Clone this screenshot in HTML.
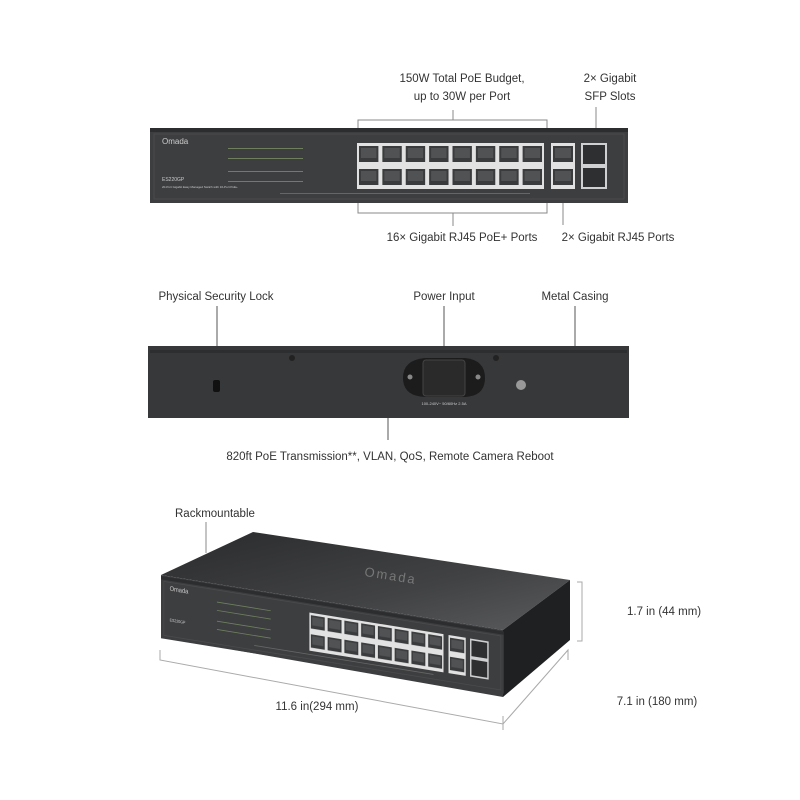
<!DOCTYPE html>
<html><head><meta charset="utf-8"><style>
html,body{margin:0;padding:0;background:#fff;width:800px;height:800px;overflow:hidden}
svg{display:block}
.l{font-family:"Liberation Sans",sans-serif;font-size:11.5px;fill:#333}
.s{font-family:"Liberation Sans",sans-serif;fill:#ccc}
</style></head><body>
<svg width="800" height="800" viewBox="0 0 800 800" xmlns="http://www.w3.org/2000/svg">
<defs>
<pattern id="pt" x="207" y="15" width="23.375" height="23" patternUnits="userSpaceOnUse">
<rect width="23.375" height="23" fill="#e2e2e2"/>
<rect x="2" y="3" width="19.4" height="16" fill="#3a3b3d"/>
<rect x="4" y="5" width="15.4" height="10" fill="#505254"/>
</pattern>
<pattern id="pt2" x="401" y="15" width="24" height="23" patternUnits="userSpaceOnUse">
<rect width="24" height="23" fill="#e2e2e2"/>
<rect x="2" y="3" width="20" height="16" fill="#3a3b3d"/>
<rect x="4" y="5" width="16" height="10" fill="#505254"/>
</pattern>
<linearGradient id="top" x1="0" y1="0" x2="1" y2="1">
<stop offset="0" stop-color="#2a2b2d"/><stop offset="0.6" stop-color="#414244"/><stop offset="1" stop-color="#5a5b5d"/></linearGradient>
<g id="panel">
<rect x="0" y="0" width="478" height="75" fill="#3d3e40"/>
<rect x="0" y="0" width="478" height="4" fill="#2c2d2f"/>
<rect x="4" y="6" width="470" height="65" fill="none" stroke="#4a4b4d"/>
<rect x="207" y="15" width="187" height="46" fill="url(#pt)"/>
<rect x="401" y="15" width="24" height="46" fill="url(#pt2)"/>
<rect x="431" y="15" width="26" height="46" fill="#cfd0d2"/>
<rect x="433" y="17" width="22" height="19" fill="#2e2f31"/>
<rect x="433" y="40" width="22" height="19" fill="#2e2f31"/>
<g fill="#6f7f5e"><rect x="78" y="20" width="75" height="1"/><rect x="78" y="30" width="75" height="1"/><rect x="78" y="43" width="75" height="1"/><rect x="78" y="53" width="75" height="1"/></g>
<rect x="130" y="65" width="250" height="1" fill="#666"/>
</g>
</defs>

<!-- TOP: front panel -->
<text class="l" x="462" y="82" text-anchor="middle">150W Total PoE Budget,</text>
<text class="l" x="462" y="100" text-anchor="middle">up to 30W per Port</text>
<text class="l" x="610" y="82" text-anchor="middle">2× Gigabit</text>
<text class="l" x="610" y="100" text-anchor="middle">SFP Slots</text>
<g stroke="#888" fill="none" stroke-width="1">
<path d="M358 133 V120 H547 V133"/><path d="M453 120 V110"/>
<path d="M596 107 V132"/>
<path d="M358 195 V213 H547 V195"/><path d="M453 213 V226"/>
<path d="M563 190 V225"/>
</g>
<g transform="translate(150,128)"><use href="#panel"/>
<text class="s" x="12" y="16" font-size="8">Omada</text>
<text class="s" x="12" y="53" font-size="5">ES220GP</text>
<text class="s" x="12" y="60" font-size="3">20-Port Gigabit Easy Managed Switch with 16-Port PoE+</text>
</g>
<text class="l" x="462" y="241" text-anchor="middle">16× Gigabit RJ45 PoE+ Ports</text>
<text class="l" x="618" y="241" text-anchor="middle">2× Gigabit RJ45 Ports</text>

<!-- MIDDLE: rear -->
<text class="l" x="216" y="300" text-anchor="middle">Physical Security Lock</text>
<text class="l" x="444" y="300" text-anchor="middle">Power Input</text>
<text class="l" x="575" y="300" text-anchor="middle">Metal Casing</text>
<g stroke="#555" stroke-width="1"><path d="M217 306 V384"/><path d="M444 306 V362"/><path d="M575 306 V346"/><path d="M388 418 V440"/></g>
<rect x="148" y="346" width="481" height="72" fill="#37383a"/>
<rect x="150" y="350" width="477" height="3" fill="#2d2e30"/>
<rect x="213" y="380" width="7" height="12" rx="2" fill="#111"/>
<circle cx="292" cy="358" r="3" fill="#222"/><circle cx="496" cy="358" r="3" fill="#222"/>
<path d="M403 378 Q403 360 425 358 H465 Q485 360 485 378 Q485 396 465 397 H425 Q403 396 403 378Z" fill="#1c1c1d"/>
<rect x="423" y="360" width="42" height="36" rx="3" fill="#2a2a2b" stroke="#444"/>
<circle cx="410" cy="377" r="2.5" fill="#888"/><circle cx="478" cy="377" r="2.5" fill="#888"/>
<circle cx="521" cy="385" r="5" fill="#999"/>
<text class="s" x="444" y="405" font-size="4" text-anchor="middle">100-240V~ 50/60Hz 2.5A</text>
<text class="l" x="390" y="460" text-anchor="middle">820ft PoE Transmission**, VLAN, QoS, Remote Camera Reboot</text>

<!-- BOTTOM: 3D -->
<text class="l" x="175" y="517">Rackmountable</text>
<path d="M206 522 V553" stroke="#888"/>
<polygon points="161,575 253,532 570,580 503,630" fill="url(#top)"/>
<polygon points="503,630 570,580 570,640 503,697" fill="#1f2021"/>
<polygon points="161,575 503,630 503,697 161,637" fill="#3d3e40"/>
<text x="390" y="580" font-family="Liberation Sans,sans-serif" font-size="13" fill="#777" transform="rotate(9 390 580)" text-anchor="middle" letter-spacing="2">Omada</text>
<g transform="matrix(0.717,0.116,0,0.83,161,576)"><use href="#panel"/>
<text class="s" x="12" y="16" font-size="8">Omada</text>
<text class="s" x="12" y="53" font-size="5">ES220GP</text>
</g>
<g stroke="#aaa" fill="none">
<path d="M160 650 V660 L503 724 L568 650 V660"/><path d="M503 716 V730"/>
<path d="M577 582 H582 V641 H577"/>
</g>
<text class="l" x="627" y="615">1.7 in (44 mm)</text>
<text class="l" x="317" y="710" text-anchor="middle">11.6 in(294 mm)</text>
<text class="l" x="657" y="705" text-anchor="middle">7.1 in (180 mm)</text>
</svg>
</body></html>
